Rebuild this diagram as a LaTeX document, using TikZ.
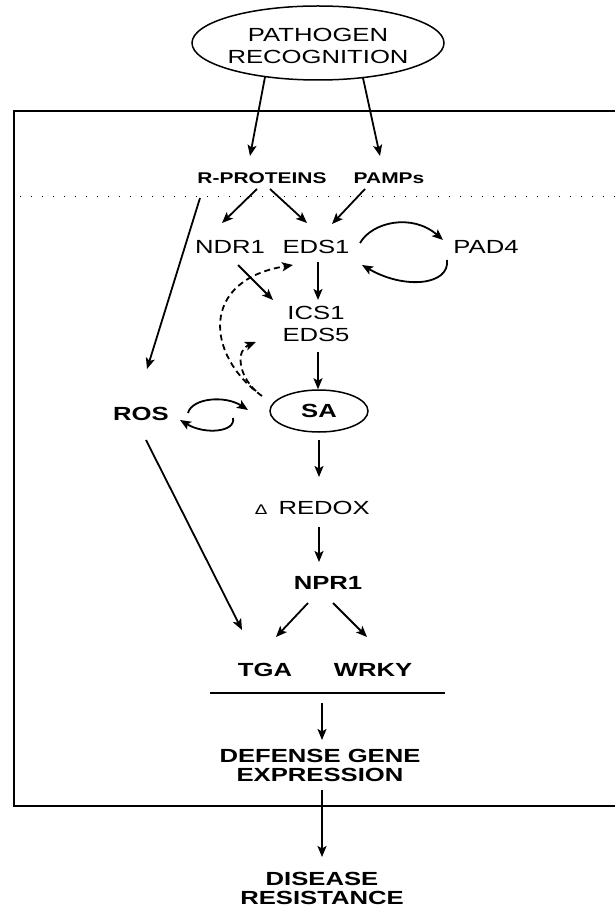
\documentclass[tikz,border=0pt]{standalone}
\usepackage{fontspec}
\setmainfont[FakeStretch=1.35]{Liberation Sans}
\usetikzlibrary{arrows.meta,shapes.geometric,calc}
\begin{document}
\begin{tikzpicture}[x=1pt,y=-1pt,
  lbl/.style={inner sep=0pt, align=center, font=\fontsize{19}{22}\selectfont},
  lblb/.style={inner sep=0pt, align=center, font=\fontsize{19}{22}\selectfont\bfseries},
  lbls/.style={inner sep=0pt, font=\fontsize{15.5}{18}\selectfont\bfseries},
  arr/.style={line width=1.8pt, -{Stealth[length=11pt,width=9pt,inset=2.5pt]}},
  darr/.style={arr, dash pattern=on 6pt off 4pt},
  frame/.style={line width=2pt},
  oval/.style={draw, ellipse, line width=1.5pt, inner sep=0pt}]
\useasboundingbox (0,0) rectangle (615,909);
% frame and faint dotted line
\draw[frame] (615,111) -- (14,111) -- (14,806) -- (615,806);
\draw[line width=1pt, dash pattern=on 1pt off 10pt] (20,197) -- (615,197);
% nodes
\node[oval, minimum width=252pt, minimum height=74pt] (pr) at (318,43) {};
\node[lbl] (prt) at (318,46) {PATHOGEN\\RECOGNITION};
\node[lbls] (rp) at (262,178) {R-PROTEINS};
\node[lbls] (pamps) at (389,178) {PAMPs};
\node[lbl] (ndr1) at (230,247) {NDR1};
\node[lbl] (eds1) at (316,247) {EDS1};
\node[lbl] (pad4) at (486,247) {PAD4};
\node[lbl] (ics) at (316,324) {ICS1\\EDS5};
\node[oval, minimum width=98pt, minimum height=42pt, font=\fontsize{19}{22}\selectfont\bfseries] (sa) at (319,411) {SA};
\node[lblb] (ros) at (141,414) {ROS};
\node[lbl, anchor=east] (redox) at (370,508) {{\fontsize{14}{14}\selectfont Δ}\hspace{11pt}REDOX};
\node[lblb] (npr1) at (328,583) {NPR1};
\node[lblb] (tga) at (265,670) {TGA};
\node[lblb] (wrky) at (373,670) {WRKY};
\coordinate (hl) at (210,693);
\coordinate (hr) at (445,693);
\draw[line width=1.8pt] (hl) -- (hr);
\node[inner sep=0pt, align=center, font=\fontsize{19}{19}\selectfont\bfseries] (def) at (320,765) {DEFENSE GENE\\EXPRESSION};
\node[inner sep=0pt, align=center, font=\fontsize{19}{19}\selectfont\bfseries] (dis) at (322,888) {DISEASE\\RESISTANCE};
% connectors
\draw[arr] ($(pr)+(-53,34)$) -- ($(rp)+(-12,-22)$);
\draw[arr] ($(pr)+(45,35)$) -- ($(pamps)+(-9,-22)$);
\draw[arr] ($(rp)+(-5,11)$) -- ($(ndr1)+(-8,-24)$);
\draw[arr] ($(rp)+(8,11)$) -- ($(eds1)+(-9,-24)$);
\draw[arr] ($(pamps)+(-24,11)$) -- ($(eds1)+(16,-23)$);
\draw[arr] ($(rp)+(-62,20)$) -- ($(ros)+(6,-45)$);
\draw[arr] ($(eds1)+(44,-4)$) .. controls (372,222) and (412,213) .. ($(pad4)+(-43,-7)$);
\draw[arr] ($(pad4)+(-39,13)$) .. controls (450,285) and (405,290) .. ($(eds1)+(46,18)$);
\draw[arr] ($(ndr1)+(8,18)$) -- ($(ics)+(-43,-24)$);
\draw[arr] ($(eds1)+(2,15)$) -- ($(ics)+(2,-24)$);
\draw[arr] ($(ics)+(2,28)$) -- ($(sa.north)+(-1,0)$);
\draw[darr] ($(sa)+(-57,-15)$) .. controls (205,355) and (200,280) .. ($(eds1)+(-23,18)$);
\draw[darr] ($(sa)+(-63,-20)$) .. controls (238,375) and (236,350) .. ($(ics)+(-60,18)$);
\draw[arr] ($(ros)+(47,-1)$) .. controls (192,398) and (225,395) .. ($(sa)+(-71,-1)$);
\draw[arr] ($(sa)+(-86,7)$) .. controls (236,432) and (205,435) .. ($(ros)+(39,6)$);
\draw[arr] ($(sa)+(0,29)$) -- ($(redox.east)+(-51,-31)$);
\draw[arr] ($(redox.east)+(-51,19)$) -- ($(npr1)+(-9,-21)$);
\draw[arr] ($(npr1)+(-20,20)$) -- ($(tga)+(11,-33)$);
\draw[arr] ($(npr1)+(5,20)$) -- ($(wrky)+(-6,-33)$);
\draw[arr] ($(ros)+(5,26)$) -- ($(tga)+(-23,-40)$);
\draw[arr] ($(hl)+(112,10)$) -- ($(def)+(2,-25)$);
\draw[arr] ($(def)+(2,25)$) -- ($(dis)+(0,-31)$);
\end{tikzpicture}
\end{document}
